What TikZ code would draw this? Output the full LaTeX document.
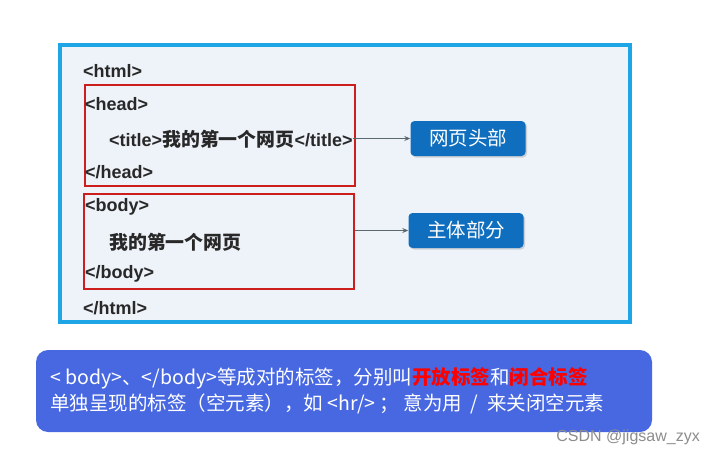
\documentclass[tikz,border=0pt]{standalone}
\usepackage{fontspec}
\setmainfont{Liberation Sans}
\newfontfamily\cjk{Noto Sans CJK SC}
\newfontfamily\cjkcode{Noto Sans CJK SC}[Scale=1.05]
\usepackage{tikz}
\usetikzlibrary{arrows.meta,positioning,shadows}
\usepackage{xcolor}
\definecolor{FrameBlue}{RGB}{30,165,230}
\definecolor{PaleBlue}{RGB}{238,243,250}
\definecolor{TagRed}{RGB}{205,30,30}
\definecolor{LabelBlue}{RGB}{15,110,190}
\definecolor{NoteBlue}{RGB}{72,104,226}
\definecolor{CodeGray}{RGB}{40,40,40}
\definecolor{ArrowGray}{RGB}{90,105,110}
\tikzset{
  code/.style={anchor=west, inner sep=0pt, text=CodeGray,
    font=\fontsize{18}{20}\selectfont\bfseries},
  partbox/.style={draw=TagRed, line width=1.8pt, fill=PaleBlue,
    minimum width=270, minimum height=100, inner sep=0pt},
  label/.style={fill=LabelBlue, rounded corners=4, text=white,
    minimum width=115, minimum height=35,
    font=\fontsize{19.5}{21}\selectfont\cjk,
    drop shadow={shadow xshift=1.5pt, shadow yshift=-1.5pt, opacity=0.3}},
  arrow/.style={-{Stealth[length=6pt,width=5pt]}, line width=1.1pt, ArrowGray}
}

\begin{document}
\begin{tikzpicture}[x=1pt,y=-1pt]
  \useasboundingbox (0,0) rectangle (715,455);

  % outer frame
  \node[draw=FrameBlue, line width=3.5pt, fill=PaleBlue, minimum width=570,
    minimum height=277, inner sep=0pt] (frame) at (345,183.5) {};

  % red part boxes
  \node[partbox, minimum height=101] (headbox) at (220,135.5) {};
  \node[partbox, minimum height=95] (bodybox) at (219,241.5) {};

  \node[code] (htmlopen) at (83,71) {<html>};
  \node[code] (headopen) at (85,104) {<head>};
  \node[code] (titleline) at (109,139)
    {<title>{\cjkcode 我的第一个网页}</title>};
  \node[code] (headclose) at (85,172) {</head>};
  \node[code] (bodyopen) at (85,207) {<body>};
  \node[code] (bodytext) at (109,242) {{\cjkcode 我的第一个网页}};
  \node[code] (bodyclose) at (85,274) {</body>};
  \node[code] (htmlclose) at (83,308) {</html>};

  % labels on the right
  \node[label] (headlabel) at (468,138.5) {网页头部};
  \node[label] (bodylabel) at (466,230.5) {主体部分};

  \draw[arrow] (headlabel.west -| titleline.east) -- (headlabel.west);
  \draw[arrow] (bodylabel.west -| bodybox.east) -- (bodylabel.west);

  % note below
  \node[fill=NoteBlue, rounded corners=12, minimum width=616,
    minimum height=82, inner sep=0pt] (note) at (344,391) {};
  \node[anchor=west, inner sep=0pt, text=white, align=left,
    font=\fontsize{19.5}{26}\selectfont\cjk] (notetext) at (50,391)
    {< body>、</body>等成对的标签，分别叫{\bfseries\color{red}开放标签}和{\bfseries\color{red}闭合标签}\\
     单独呈现的标签（空元素），如 <hr/> ； 意为用 \ / \ 来关闭空元素};

  \node[anchor=east, inner sep=0pt, text=black!45,
    font=\fontsize{16}{18}\selectfont] (mark) at (700,437) {CSDN @jigsaw\_zyx};
\end{tikzpicture}
\end{document}
